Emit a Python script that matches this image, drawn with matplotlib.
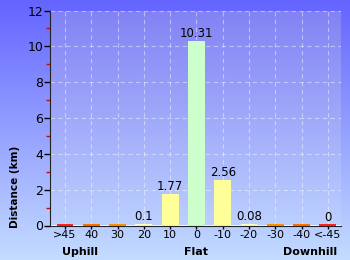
import numpy as np
import matplotlib
matplotlib.use("Agg")
import matplotlib.pyplot as plt
from matplotlib.colors import LinearSegmentedColormap

categories = ['>45', '40', '30', '20', '10', '0', '-10', '-20', '-30', '-40', '<-45']
distance = [0, 0, 0, 0.1, 1.77, 10.31, 2.56, 0.08, 0, 0, 0]
bar_text = ['', '', '', '0.1', '1.77', '10.31', '2.56', '0.08', '', '', '0']
bar_colors = ['#ff2020', '#ff7000', '#ff9000', '#ffffc8', '#ffff99', '#ccffcc',
              '#ffff99', '#ffffc8', '#ff9000', '#ff7000', '#ff2020']
groups = ['Uphill', 'Flat', 'Downhill']
group_x = [80, 196, 310]

fig = plt.figure(figsize=(3.5, 2.6), dpi=100)

# background gradient for the whole figure
bg = fig.add_axes([0, 0, 1, 1])
bg_cmap = LinearSegmentedColormap.from_list('bg', ['#6464ff', '#c4dcff'])
bg.imshow(np.linspace(0, 1, 256).reshape(-1, 1), aspect='auto', cmap=bg_cmap,
          extent=[0, 1, 0, 1], origin='upper')
bg.set_axis_off()

ax = fig.add_axes([50 / 350, 34.5 / 260, 291 / 350, 215 / 260])
ax.set_xlim(-0.57, 10.5)
ax.set_ylim(0, 12)
ax_cmap = LinearSegmentedColormap.from_list('ax', ['#8282f4', '#bcd0ff'])
ax.imshow(np.linspace(0, 1, 256).reshape(-1, 1), aspect='auto', cmap=ax_cmap,
          extent=[-0.57, 10.5, 0, 12], origin='upper', zorder=0)

x = np.arange(len(categories))
heights = np.maximum(distance, 0.06)
ax.bar(x, heights, width=0.64, color=bar_colors, edgecolor='none', zorder=3)
for xi, h, t in zip(x, heights, bar_text):
    if t:
        ax.text(xi, h + 0.05, t, ha='center', va='bottom', fontsize=8.5,
                color='black', zorder=4)

ax.set_yticks(range(0, 13, 2))
ax.set_yticks(range(1, 13, 2), minor=True)
ax.tick_params(axis='y', which='major', length=4, width=1, labelsize=9, pad=1)
ax.tick_params(axis='y', which='minor', length=3, width=1, color='#dd0000')
ax.set_xticks(x)
ax.set_xticklabels(categories)
ax.tick_params(axis='x', length=2.5, width=1, labelsize=8, pad=1)
ax.grid(True, color='white', alpha=0.45, linestyle=(0, (4, 3)), linewidth=0.8, zorder=1)
ax.set_axisbelow(True)
for s in ['top', 'right']:
    ax.spines[s].set_visible(False)
for s in ['left', 'bottom']:
    ax.spines[s].set_color('#222222')
    ax.spines[s].set_zorder(5)

fig.text(15 / 350, 73 / 260, 'Distance (km)', rotation=90, ha='center',
         va='center', fontsize=7.5, fontweight='bold')
for g, gx in zip(groups, group_x):
    fig.text(gx / 350, 8 / 260, g, ha='center', va='center', fontsize=8,
             fontweight='bold')

fig.savefig('out.png', dpi=100)
